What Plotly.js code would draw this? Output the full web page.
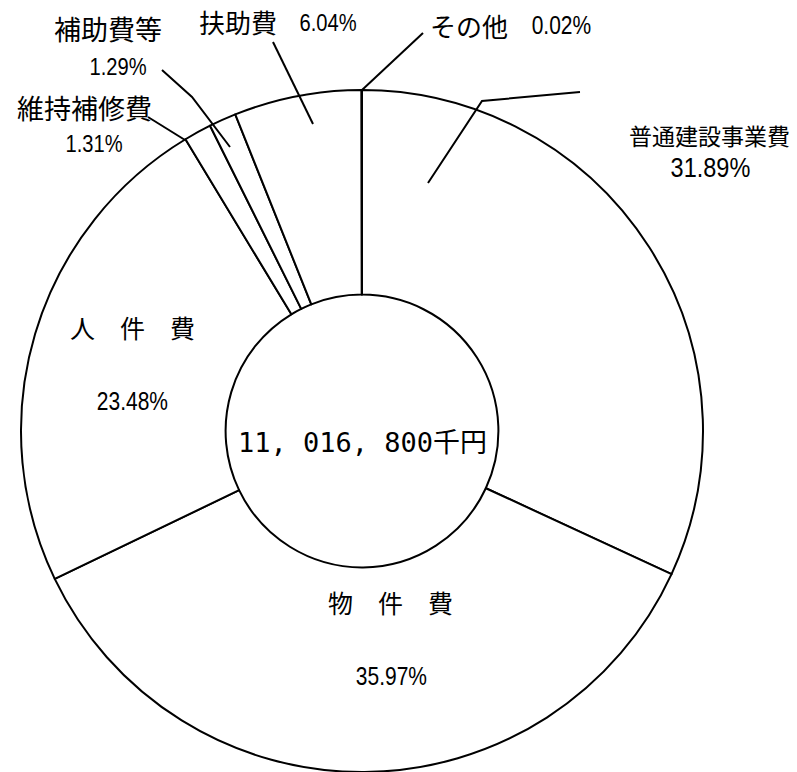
<!DOCTYPE html>
<html>
<head>
<meta charset="utf-8">
<script src="https://cdn.plot.ly/plotly-3.0.1.min.js"></script>
<style>html,body{margin:0;padding:0;background:#fff;}#chart{width:797px;height:772px;}</style>
</head>
<body>
<div id="chart"></div>
<script>
// Data
var categories = ["普通建設事業費", "物件費", "人件費", "維持補修費", "補助費等", "扶助費", "その他"];
var shares = [31.89, 35.97, 23.48, 1.31, 1.29, 6.04, 0.02];
var shareLabels = ["31.89%", "35.97%", "23.48%", "1.31%", "1.29%", "6.04%", "0.02%"];
var totalLabel = "11, 016, 800千円";

var W = 797, H = 772;
var CX = 362, CY = 431, R = 341;
function px(x) { return x / W; }
function py(y) { return 1 - y / H; }

var JP = '"Noto Sans CJK JP", "Noto Sans", sans-serif';
var NUM = '"Liberation Sans", Arial, sans-serif';

var trace = {
  type: 'pie',
  labels: categories,
  values: shares,
  sort: false,
  direction: 'clockwise',
  rotation: 0,
  hole: 0.40,
  textinfo: 'none',
  hoverinfo: 'none',
  showlegend: false,
  marker: { colors: categories.map(function(){ return '#ffffff'; }), line: { color: '#000000', width: 2 } },
  domain: { x: [px(CX - R), px(CX + R)], y: [py(CY + R), py(CY - R)] }
};

function ann(text, x, y, size, family) {
  return { text: text, x: px(x), y: py(y), xref: 'paper', yref: 'paper', showarrow: false,
           xanchor: 'center', yanchor: 'middle', font: { size: size, family: family, color: '#000' } };
}

var annotations = [
  ann(categories[0], 709, 135, 23, JP),
  ann(shareLabels[0], 710, 167, 28, NUM),
  ann("物　件　費", 390, 602, 25, JP),
  ann(shareLabels[1], 391, 676, 25, NUM),
  ann("人　件　費", 132, 327, 25, JP),
  ann(shareLabels[2], 132, 401, 25, NUM),
  ann(categories[3], 84, 107, 27, JP),
  ann(shareLabels[3], 94, 143, 24, NUM),
  ann(categories[4], 108, 28, 27, JP),
  ann(shareLabels[4], 118, 67, 24, NUM),
  ann(categories[5], 238, 22, 26, JP),
  ann(shareLabels[5], 328, 23, 24, NUM),
  ann(categories[6], 469, 25, 26, JP),
  ann(shareLabels[6], 561, 25, 25, NUM),
  ann(totalLabel, 362, 442, 27, '"DejaVu Sans Mono", "Noto Sans CJK JP", monospace')
];

function path(pts) {
  return 'M' + pts.map(function(p){ return px(p[0]) + ',' + py(p[1]); }).join(' L');
}
function lineShape(pts) {
  return { type: 'path', xref: 'paper', yref: 'paper', path: path(pts), line: { color: '#000', width: 2 } };
}
var shapes = [
  lineShape([[362, 90], [423, 33]]),
  lineShape([[428, 183], [482, 101], [580, 92]]),
  lineShape([[273, 42], [313, 124]]),
  lineShape([[162, 70], [192, 97], [230, 147]]),
  lineShape([[148, 117], [185, 140]])
];

var layout = {
  width: W, height: H,
  margin: { l: 0, r: 0, t: 0, b: 0 },
  paper_bgcolor: '#ffffff',
  plot_bgcolor: '#ffffff',
  annotations: annotations,
  shapes: shapes
};

Plotly.newPlot('chart', [trace], layout, { staticPlot: true, displayModeBar: false }).then(function (gd) {
  // narrow the percentage labels, as in the original condensed typeface
  var texts = gd.querySelectorAll('text.annotation-text');
  texts.forEach(function (t) {
    if (/%$/.test(t.textContent)) {
      t.style.transformBox = 'fill-box';
      t.style.transformOrigin = 'center';
      t.style.transform = 'scaleX(0.84)';
    }
  });
});
</script>
</body>
</html>
